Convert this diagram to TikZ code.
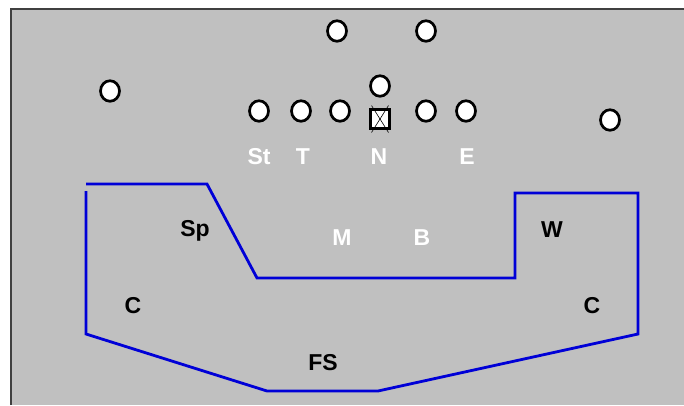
\documentclass[tikz,border=0pt]{standalone}
\usepackage{fontspec}
\usetikzlibrary{shapes.geometric}
\setmainfont{Liberation Sans}
\definecolor{fieldgray}{RGB}{192,192,192}
\definecolor{zoneblue}{RGB}{0,0,215}
\tikzset{
  player/.style={ellipse, draw=black, fill=white, line width=2.7pt, minimum width=19pt, minimum height=20.5pt, inner sep=0pt},
  center/.style={rectangle, draw=black, fill=white, line width=3pt, minimum size=19pt, inner sep=0pt},
  tag/.style={font=\fontsize{23}{26}\selectfont\bfseries, inner sep=0pt},
  offtag/.style={tag, text=white},
  deftag/.style={tag, text=black},
  zone/.style={zoneblue, line width=2.8pt}
}
\begin{document}
\begin{tikzpicture}[x=1pt, y=-1pt]
  % Canvas: white margin, gray field with a dark edge on the left and top
  \useasboundingbox (0,0) rectangle (684,405);
  \fill[white] (0,0) rectangle (684,405);
  \fill[fieldgray] (10,8) rectangle (684,405);
  \draw[black!75, line width=2pt] (10.5,405) -- (10.5,8.5) -- (684,8.5);
  % Backs in the backfield
  \node[player] (hbL) at (337,31) {};
  \node[player] (hbR) at (426,31) {};
  \node[player] (qb)  at (380,86) {};
  % Wide receivers
  \node[player] (wrL) at (110,91) {};
  \node[player] (wrR) at (610,120) {};
  % Line of scrimmage: circles with the ball at the centre
  \foreach \x/\n in {259/a, 301/b, 340/c, 426/d, 466/e} {
    \node[player] (ol\n) at (\x,111) {};
  }
  \node[center] (ball) at (380,119) {};
  \draw[line width=0.6pt] (ball.south west) ++(2.5pt,-2.5pt) -- ([shift={(-2.5pt,2.5pt)}]ball.north east);
  \draw[line width=0.6pt] (ball.north west) ++(2.5pt,2.5pt) -- ([shift={(-2.5pt,-2.5pt)}]ball.south east);
  % Defensive front labels (white)
  \node[offtag] (St) at (259,157) {St};
  \node[offtag] (T)  at (303,157) {T};
  \node[offtag] (N)  at (379,157) {N};
  \node[offtag] (E)  at (467,157) {E};
  \node[offtag] (M)  at (342,238) {M};
  \node[offtag] (B)  at (422,238) {B};
  % Coverage labels (black)
  \node[deftag] (Sp) at (195,231) {Sp};
  \node[deftag] (W)  at (552,230) {W};
  \node[deftag] (CL) at (133,306) {C};
  \node[deftag] (CR) at (592,306) {C};
  \node[deftag] (FS) at (323,363) {FS};
  % Coverage zone outline
  \draw[zone] (86,184) -- (207,184) -- (257,278) -- (515,278) -- (515,193)
    -- (638,193) -- (638,334) -- (378,391) -- (267,391) -- (86,334) -- (86,191);
\end{tikzpicture}
\end{document}
